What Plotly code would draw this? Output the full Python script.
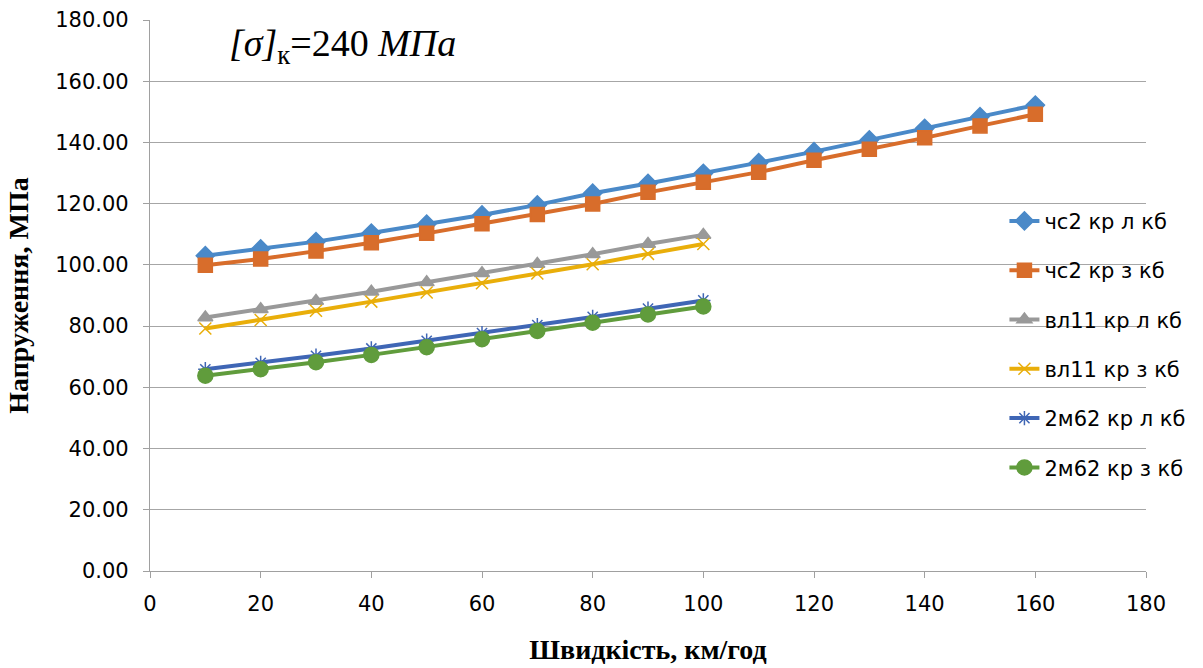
import plotly.graph_objects as go

x_long = [10, 20, 30, 40, 50, 60, 70, 80, 90, 100, 110, 120, 130, 140, 150, 160]
x_short = [10, 20, 30, 40, 50, 60, 70, 80, 90, 100]

chs2_l = [103.0, 105.2, 107.6, 110.4, 113.3, 116.3, 119.6, 123.4, 126.6, 129.9, 133.4, 137.0, 140.8, 144.6, 148.4, 152.2]
chs2_z = [99.9, 101.9, 104.5, 107.2, 110.3, 113.4, 116.5, 119.9, 123.7, 127.0, 130.3, 134.2, 137.8, 141.5, 145.4, 149.2]
vl11_l = [82.8, 85.5, 88.2, 91.2, 94.3, 97.3, 100.3, 103.5, 106.8, 109.8]
vl11_z = [79.2, 82.0, 85.0, 88.0, 91.0, 94.0, 97.2, 100.2, 103.6, 106.8]
m62_l = [65.9, 68.0, 70.3, 72.7, 75.2, 77.7, 80.3, 83.0, 85.7, 88.4]
m62_z = [63.8, 65.9, 68.2, 70.6, 73.1, 75.7, 78.4, 81.1, 83.8, 86.4]

names = ["чс2 кр л кб", "чс2 кр з кб", "вл11 кр л кб", "вл11 кр з кб", "2м62 кр л кб", "2м62 кр з кб"]
colors = ["#4A89C8", "#D86D2B", "#999999", "#E9AE0A", "#3F66B5", "#609C3C"]
symbols = ["diamond", "square", "triangle-up", "x-thin-open", "asterisk-open", "circle"]
sizes = [14, 14, 13, 12, 12, 15]

xticks = list(range(0, 181, 20))
yticks = list(range(0, 181, 20))

series = [(x_long, chs2_l), (x_long, chs2_z), (x_short, vl11_l), (x_short, vl11_z), (x_short, m62_l), (x_short, m62_z)]

fig = go.Figure()
for i, (xs, ys) in enumerate(series):
    fig.add_trace(go.Scatter(
        x=xs, y=ys, name=names[i], mode="lines+markers",
        legendgroup=f"g{i}",
        line=dict(color=colors[i], width=4),
        marker=dict(symbol=symbols[i], size=sizes[i], color=colors[i],
                    line=dict(color=colors[i], width=1.5)),
    ))

fig.add_annotation(
    x=0.077, y=0.952, xref="paper", yref="paper", xanchor="left", yanchor="middle",
    text="<i>[σ]</i><sub>к</sub>=240 <i>МПа</i>", showarrow=False,
    font=dict(family="Liberation Serif", size=38, color="#000000"),
)

tickfont = dict(family="DejaVu Sans", size=21, color="#000000")
fig.update_layout(
    width=1203, height=668,
    margin=dict(l=150, r=56, t=20, b=97),
    paper_bgcolor="white", plot_bgcolor="white",
    showlegend=True,
    legend=dict(x=0.857, y=0.672, xanchor="left", yanchor="top",
                bgcolor="rgba(0,0,0,0)", tracegroupgap=19,
                font=dict(family="DejaVu Sans", size=21, color="#000000")),
    xaxis=dict(range=[0, 180], tickvals=xticks, ticktext=[str(v) for v in xticks],
               automargin=False,
               showgrid=False, zeroline=False, showline=True, linecolor="#A0A0A0", linewidth=1.3,
               ticks="outside", ticklen=6, tickcolor="#A0A0A0", tickfont=tickfont,
               ticklabelstandoff=8,
               title=dict(text="<b>Швидкість, км/год</b>", standoff=24,
                          font=dict(family="Liberation Serif", size=28, color="#000000"))),
    yaxis=dict(range=[0, 180], tickvals=yticks, ticktext=[f"{v:.2f}" for v in yticks],
               automargin=False,
               showgrid=True, gridcolor="#A6A6A6", gridwidth=1.3, zeroline=False,
               showline=True, linecolor="#A0A0A0", linewidth=1.3,
               ticks="outside", ticklen=6, tickcolor="#A0A0A0", tickfont=tickfont,
               ticklabelstandoff=10,
               title=dict(text="<b>Напруження, МПа</b>", standoff=18,
                          font=dict(family="Liberation Serif", size=28, color="#000000"))),
)

fig.write_html("out.html")
